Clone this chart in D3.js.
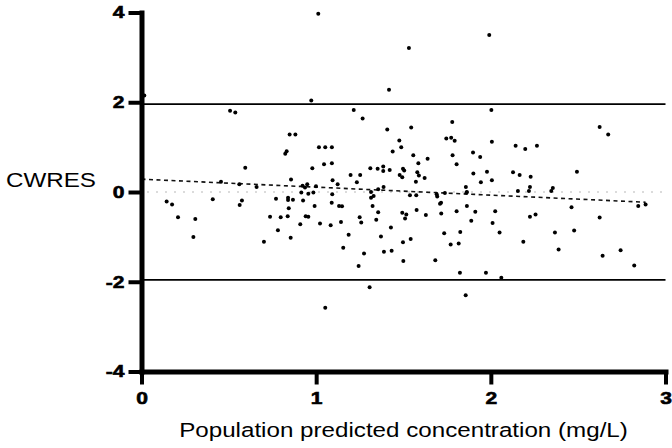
<!DOCTYPE html>
<html>
<head>
<meta charset="utf-8">
<script src="https://cdn.jsdelivr.net/npm/d3@7"></script>
<style>
  body { margin: 0; background: #fff; }
  svg { display: block; font-family: Arial, "Liberation Sans", sans-serif; }
</style>
</head>
<body>
<svg id="chart" width="672" height="448"></svg>
<script>
// population predicted concentration (mg/L), one entry per observation
var predConc = [
  0.016,0.972,1.012,1.991,1.531,1.417,
  0.507,0.537,0.848,0.881,0.831,0.823,0.594,0.978,0.856,0.455,0.560,0.659,0.922,0.936,0.949,0.915,0.955,0.984,
  1.215,1.266,1.407,1.544,1.779,1.745,1.773,1.793,1.476,1.487,1.016,1.052,1.090,1.438,1.556,1.781,1.638,1.898,1.939,1.804,
  1.585,1.045,1.090,1.310,1.352,1.384,1.384,1.421,1.497,1.504,1.478,1.493,1.579,1.588,1.621,1.571,1.197,1.252,1.233,1.094,
  1.123,0.999,1.978,1.900,1.943,1.857,1.314,1.355,1.386,1.863,2.003,
  2.006,2.142,2.197,2.264,2.623,2.672,2.493,2.127,2.165,2.228,2.006,2.155,2.218,2.224,2.346,2.355,
  0.144,0.175,0.209,0.308,0.297,0.408,0.575,0.562,0.770,0.736,0.797,0.781,0.701,0.854,0.839,0.839,0.867,0.843,0.837,0.925,
  0.940,0.955,0.909,0.991,
  1.022,1.052,1.083,1.092,1.089,1.131,1.148,1.142,1.155,1.186,1.243,1.274,1.249,1.258,1.306,1.314,1.329,1.323,1.355,1.344,
  1.428,1.371,1.388,1.432,1.499,1.497,1.541,1.493,1.516,1.509,1.575,1.628,1.537,1.573,1.690,1.693,1.709,1.715,1.716,1.682,
  1.733,1.770,1.816,1.825,1.823,1.856,1.804,1.863,1.911,1.888,1.972,1.737,1.861,
  2.025,2.010,2.050,2.060,2.186,2.224,2.256,2.367,2.388,2.462,2.477,2.623,2.640,2.743,2.821,2.844,2.886
];

// conditional weighted residuals, same order as predConc
var cwres = [
  2.15,2.04,3.97,3.50,3.21,2.28,
  1.81,1.77,1.28,1.28,0.91,0.85,0.54,0.53,0.28,0.23,0.17,0.11,0.14,0.10,0.17,-0.01,-0.04,-0.01,
  1.83,1.64,1.39,1.44,1.56,1.19,1.21,1.14,1.15,1.00,1.00,1.00,1.00,0.90,0.82,0.82,0.74,0.88,0.78,0.62,
  0.64,0.62,0.64,0.53,0.52,0.57,0.47,0.49,0.52,0.48,0.38,0.33,0.44,0.37,0.31,0.23,0.38,0.38,0.22,0.26,
  0.17,0.13,0.45,0.41,0.22,0.11,0.00,0.06,0.11,0.00,1.83,
  1.12,1.03,0.96,1.03,1.45,1.28,0.45,0.44,0.38,0.34,0.26,0.02,0.02,0.11,0.02,0.09,
  -0.21,-0.28,-0.56,-0.60,-1.00,-0.16,-0.19,-0.29,-0.15,-0.55,-0.56,-0.85,-1.11,-1.02,-0.13,-0.18,-0.17,-0.36,-0.54,-0.19,
  -0.54,-0.55,-0.72,-0.31,
  -0.70,-2.58,-0.74,-0.05,-0.24,-0.31,-0.32,-0.67,-1.24,-0.95,-1.65,-1.37,-0.56,-0.68,-2.12,-0.13,-0.09,-0.31,-0.45,-0.62,
  -0.79,-0.99,-1.33,-1.31,-1.54,-1.12,-1.05,-0.46,-0.50,-0.59,-0.40,-0.51,-0.07,-0.07,-0.05,-0.10,-0.26,-0.24,-0.48,-1.52,
  -0.92,-1.17,-1.15,-0.89,-1.80,-2.30,-0.43,-0.31,-0.44,-0.64,-1.80,-0.02,-0.01,
  -0.43,-0.69,-0.90,-1.91,-1.11,-0.55,-0.50,-0.90,-1.28,-0.34,-0.86,-0.57,-1.42,-1.30,-1.64,-0.31,-0.28
];

var xTicks = [0, 1, 2, 3];
var yTicks = [-4, -2, 0, 2, 4];
var refLines = [1.96, -1.96];       // solid limits
var zeroLine = [0];                 // light dotted line
var trend = {intercept: 0.286, slope: -0.178, xStart: 0, xEnd: 2.886};   // dashed fit

var svg = d3.select("#chart");
var stretch = 1.24;   // text in the picture is a bit wider than it is tall

var x = d3.scaleLinear().domain([0, 3]).range([141.5, 665.5]);
var y = d3.scaleLinear().domain([-4, 4]).range([371.5, 12.5]);

// reference lines
svg.selectAll(".ref")
  .data(refLines)
  .enter().append("line")
  .attr("class", "ref")
  .attr("x1", x(0)).attr("x2", x(3))
  .attr("y1", function(d) { return y(d); })
  .attr("y2", function(d) { return y(d); })
  .attr("stroke", "#000")
  .attr("stroke-width", 1.8);

svg.selectAll(".zero")
  .data(zeroLine)
  .enter().append("line")
  .attr("class", "zero")
  .attr("x1", x(0) + 6).attr("x2", x(3))
  .attr("y1", function(d) { return y(d); })
  .attr("y2", function(d) { return y(d); })
  .attr("stroke", "#b8b8b8")
  .attr("stroke-width", 2)
  .attr("stroke-dasharray", "1,8");

// dashed trend line
svg.append("line")
  .attr("x1", x(trend.xStart))
  .attr("y1", y(trend.intercept + trend.slope * trend.xStart))
  .attr("x2", x(trend.xEnd))
  .attr("y2", y(trend.intercept + trend.slope * trend.xEnd))
  .attr("stroke", "#111")
  .attr("stroke-width", 1.6)
  .attr("stroke-dasharray", "4,3.5");

// points
svg.selectAll(".pt")
  .data(predConc)
  .enter().append("circle")
  .attr("class", "pt")
  .attr("cx", function(d) { return x(d); })
  .attr("cy", function(d, i) { return y(cwres[i]); })
  .attr("r", 2)
  .attr("fill", "#000");

// axes; plain hyphen for negative labels as in the picture
var fmt = function(d) { return String(d); };

var yAxis = svg.append("g")
  .attr("transform", "translate(" + x(0) + ",0)")
  .call(d3.axisLeft(y).tickValues(yTicks).tickFormat(fmt)
        .tickSize(13).tickSizeOuter(0).tickPadding(4));

var xAxis = svg.append("g")
  .attr("transform", "translate(0," + y(-4) + ")")
  .call(d3.axisBottom(x).tickValues(xTicks).tickFormat(fmt)
        .tickSize(13).tickSizeOuter(0).tickPadding(7));

[yAxis, xAxis].forEach(function(a) {
  a.select(".domain").style("stroke-width", "5px").style("stroke-linecap", "square");
  a.selectAll(".tick line").style("stroke-width", "4px");
  a.selectAll(".tick text")
   .attr("fill", "#000")
   .style("font-family", "Arial, 'Liberation Sans', sans-serif")
   .style("font-size", "17px")
   .style("font-weight", "bold")
   .style("stroke", "#000")
   .style("stroke-width", "0.6px");
});

yAxis.selectAll(".tick text")
  .attr("x", -17 / stretch)
  .attr("transform", "scale(" + stretch + ",1)");
xAxis.selectAll(".tick text")
  .attr("transform", "scale(" + stretch + ",1)");

// axis titles
svg.append("text")
  .attr("transform", "translate(51,187) scale(" + stretch + ",1)")
  .attr("text-anchor", "middle")
  .style("font-size", "19.5px")
  .text("CWRES");

svg.append("text")
  .attr("transform", "translate(" + (x(0) + x(3)) / 2 + ",437) scale(" + stretch + ",1)")
  .attr("text-anchor", "middle")
  .style("font-size", "19.5px")
  .text("Population predicted concentration (mg/L)");
</script>
</body>
</html>
